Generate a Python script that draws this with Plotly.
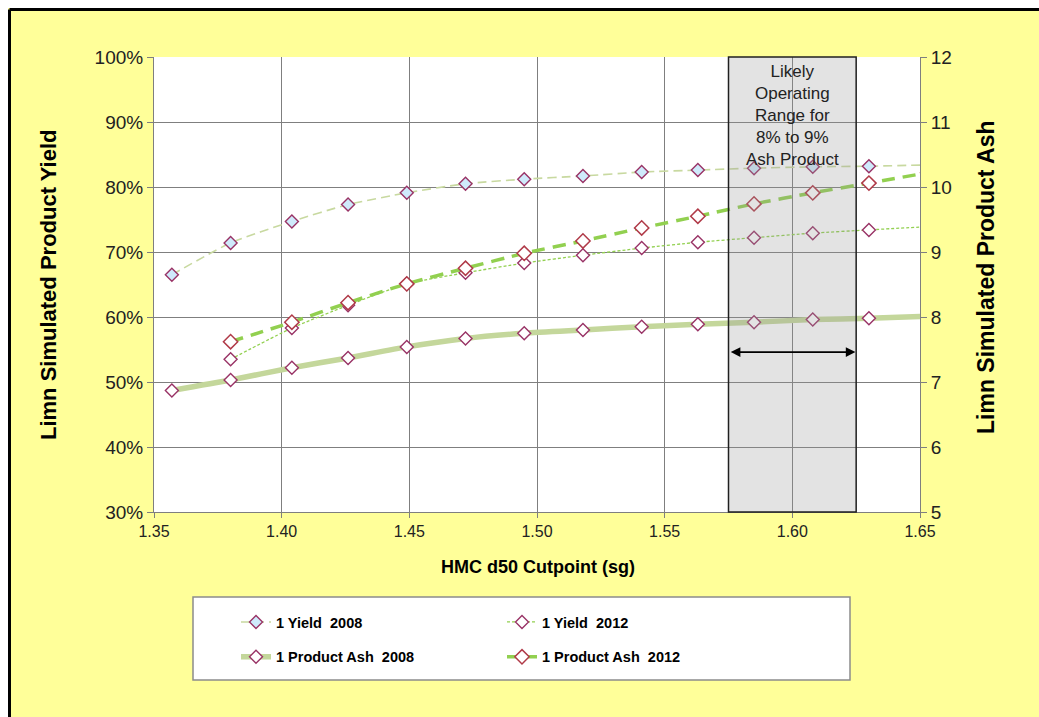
import plotly.graph_objects as go

# ---- data ----
x_2008 = [1.357, 1.380, 1.404, 1.426, 1.449, 1.472, 1.495, 1.518, 1.541, 1.563, 1.585, 1.608, 1.630, 1.653]
x_2012 = [1.380, 1.404, 1.426, 1.449, 1.472, 1.495, 1.518, 1.541, 1.563, 1.585, 1.608, 1.630, 1.653]

yield_2008 = [66.5, 71.4, 74.7, 77.3, 79.1, 80.5, 81.2, 81.7, 82.3, 82.6, 82.9, 83.1, 83.2, 83.4]
yield_2012 = [53.5, 58.3, 61.8, 65.1, 66.8, 68.3, 69.5, 70.6, 71.5, 72.2, 72.9, 73.4, 73.9]
ash_2008 = [6.87, 7.03, 7.22, 7.37, 7.54, 7.67, 7.75, 7.80, 7.85, 7.89, 7.92, 7.96, 7.98, 8.01]
ash_2012 = [7.62, 7.92, 8.22, 8.51, 8.75, 8.98, 9.17, 9.37, 9.55, 9.74, 9.91, 10.06, 10.22]

range_lo, range_hi = 1.575, 1.625
arrow_level = 54.6
box_text = "Likely<br>Operating<br>Range for<br>8% to 9%<br>Ash Product"

FONT = "Arial, Liberation Sans, sans-serif"
YELLOW = "#FFFF99"
MK = "#993366"

fig = go.Figure()

fig.add_trace(go.Scatter(
    x=x_2008, y=yield_2008, name="1 Yield\u00a0\u00a02008", mode="lines+markers",
    line=dict(color="#C8D9A0", width=1.6, dash="9px,5px", shape="spline", smoothing=0.6),
    marker=dict(symbol="diamond", size=10, color="#CFEAFB", line=dict(color=MK, width=1.4)),
    legend="legend", legendgroup="a", yaxis="y"))
fig.add_trace(go.Scatter(
    x=x_2008, y=ash_2008, name="1 Product Ash\u00a0\u00a02008", mode="lines+markers",
    line=dict(color="#C4D79B", width=5.5, shape="spline", smoothing=0.6),
    marker=dict(symbol="diamond", size=10, color="white", line=dict(color=MK, width=1.4)),
    legend="legend", legendgroup="b", yaxis="y2"))
fig.add_trace(go.Scatter(
    x=x_2012, y=yield_2012, name="1 Yield\u00a0\u00a02012", mode="lines+markers",
    line=dict(color="#92D050", width=1.3, dash="3px,2px", shape="spline", smoothing=0.6),
    marker=dict(symbol="diamond", size=10, color="white", line=dict(color=MK, width=1.4)),
    legend="legend2", legendgroup="c", yaxis="y"))
fig.add_trace(go.Scatter(
    x=x_2012, y=ash_2012, name="1 Product Ash\u00a0\u00a02012", mode="lines+markers",
    line=dict(color="#92D050", width=3.5, dash="13px,8px", shape="spline", smoothing=0.6),
    marker=dict(symbol="diamond", size=11, color="white", line=dict(color="#B03A48", width=1.5)),
    legend="legend2", legendgroup="d", yaxis="y2"))

W, H = 1039, 717
L, R, T, B = 154, 920, 57, 512
def px(xp):
    return (xp - L) / (R - L)
def py(yp):
    return (B - yp) / (B - T)

shapes = [
    # white strips outside the chart border
    dict(type="rect", xref="paper", yref="paper", x0=px(-5), x1=px(W + 5), y0=py(8), y1=py(-5),
         fillcolor="white", line=dict(width=0), layer="below"),
    dict(type="rect", xref="paper", yref="paper", x0=px(-5), x1=px(8), y0=py(H + 5), y1=py(-5),
         fillcolor="white", line=dict(width=0), layer="below"),
    dict(type="line", xref="paper", yref="paper", x0=px(9.5), x1=px(W + 5), y0=py(9.5), y1=py(9.5),
         line=dict(color="black", width=3)),
    dict(type="line", xref="paper", yref="paper", x0=px(9.5), x1=px(9.5), y0=py(9.5), y1=py(H + 5),
         line=dict(color="black", width=3)),
    # legend box
    dict(type="rect", xref="paper", yref="paper", x0=px(193), x1=px(850), y0=py(680), y1=py(597),
         fillcolor="white", line=dict(color="#8C8C8C", width=1.5), layer="below"),
    # operating range box
    dict(type="rect", xref="x", yref="paper", x0=range_lo, x1=range_hi, y0=0, y1=1,
         fillcolor="rgba(150,150,150,0.27)", line=dict(color="#202020", width=1.5), layer="above"),
]

annotations = [
    dict(x=(range_lo + range_hi) / 2, y=py(115), xref="x", yref="paper", text=box_text,
         xanchor="center", yanchor="middle",
         showarrow=False, font=dict(family=FONT, size=17, color="#222222"), align="center"),
    dict(x=range_hi - 0.0003, y=arrow_level, xref="x", yref="y", ax=range_lo + 0.0003, ay=arrow_level,
         axref="x", ayref="y", text="", showarrow=True, arrowhead=2, arrowsize=1.2, arrowwidth=1.6,
         arrowside="end+start", arrowcolor="black"),
    dict(x=px(48), y=py(285), xref="paper", yref="paper", text="<b>Limn Simulated Product Yield</b>",
         xanchor="center", yanchor="middle",
         textangle=-90, showarrow=False, font=dict(family=FONT, size=22, color="black")),
    dict(x=px(986), y=py(277), xref="paper", yref="paper", text="<b>Limn Simulated Product Ash</b>",
         xanchor="center", yanchor="middle",
         textangle=-90, showarrow=False, font=dict(family=FONT, size=23, color="black")),
    dict(x=px(538), y=py(567), xref="paper", yref="paper", text="<b>HMC d50 Cutpoint (sg)</b>",
         xanchor="center", yanchor="middle",
         showarrow=False, font=dict(family=FONT, size=18, color="black")),
]

legend_common = dict(orientation="v", bgcolor="rgba(0,0,0,0)", borderwidth=0,
                     font=dict(family=FONT, size=14.5, color="black", weight="bold"),
                     tracegroupgap=13, traceorder="grouped", yanchor="top", xanchor="left",
                     itemwidth=30)

fig.update_layout(
    width=W, height=H,
    margin=dict(l=L, r=W - R, t=T, b=H - B, pad=0),
    paper_bgcolor=YELLOW, plot_bgcolor="white",
    font=dict(family=FONT, color="black"),
    showlegend=True,
    legend=dict(x=px(236), y=py(606), **legend_common),
    legend2=dict(x=px(502), y=py(606), **legend_common),
    xaxis=dict(range=[1.35, 1.65], dtick=0.05, tick0=1.35, tickformat=".2f",
               showgrid=True, gridcolor="#7F7F7F", gridwidth=1,
               showline=True, linecolor="#7F7F7F", linewidth=1,
               ticks="outside", ticklen=5, tickcolor="#7F7F7F",
               tickfont=dict(family=FONT, size=16, color="#222222"), zeroline=False),
    yaxis=dict(range=[30, 100], dtick=10, ticksuffix="%",
               showgrid=True, gridcolor="#7F7F7F", gridwidth=1,
               showline=True, linecolor="#7F7F7F", linewidth=1,
               ticks="outside", ticklen=6, tickcolor="#7F7F7F",
               tickfont=dict(family=FONT, size=19, color="#222222"), zeroline=False),
    yaxis2=dict(range=[5, 12], dtick=1, overlaying="y", side="right",
                showgrid=False, showline=True, linecolor="#7F7F7F", linewidth=1,
                ticks="outside", ticklen=6, tickcolor="#7F7F7F",
                tickfont=dict(family=FONT, size=19, color="#222222"), zeroline=False),
    shapes=shapes, annotations=annotations,
)

fig.write_html("out.html",
               config={"displayModeBar": False},
               post_script="document.body.style.margin='0';document.body.style.overflow='hidden';")
